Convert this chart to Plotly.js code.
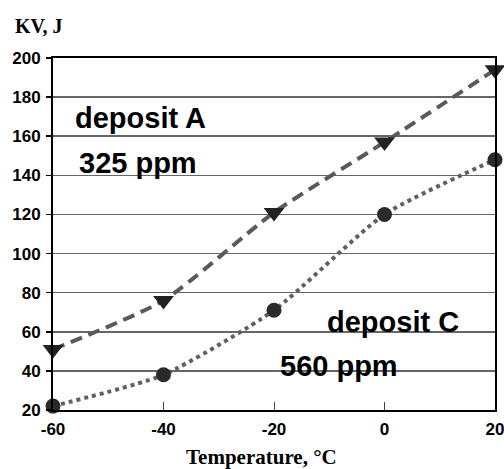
<!DOCTYPE html>
<html>
<head>
<meta charset="utf-8">
<script src="https://cdn.plot.ly/plotly-3.0.1.min.js"></script>
<style>html,body{margin:0;padding:0;background:#fff;}#chart{width:504px;height:469px;}</style>
</head>
<body>
<div id="chart"></div>
<script>
const temperature = [-60, -40, -20, 0, 20];
const depositA = [51, 76, 121, 157, 194];
const depositC = [22, 38, 71, 120, 148];
const xTicks = [-60, -40, -20, 0, 20];
const yTicks = [20, 40, 60, 80, 100, 120, 140, 160, 180, 200];
const labels = [
  {text: 'deposit A', x: -44.2, y: 169.5},
  {text: '325 ppm', x: -44.7, y: 146.5},
  {text: 'deposit C', x: 1.6, y: 65},
  {text: '560 ppm', x: -8.2, y: 42.5}
];

const tickFont = {family: 'Liberation Sans, Arial, sans-serif', size: 17, color: '#000', weight: 'bold'};

const traces = [
  {
    x: temperature, y: depositA, type: 'scatter', mode: 'lines+markers',
    line: {color: '#5a5a5a', width: 4, dash: '12px,7px', shape: 'spline', smoothing: 0.6},
    marker: {symbol: 'triangle-down', size: 18, color: '#222'},
    cliponaxis: false, showlegend: false
  },
  {
    x: temperature, y: depositC, type: 'scatter', mode: 'lines+markers',
    line: {color: '#606060', width: 4, dash: '4px,4px', shape: 'spline', smoothing: 0.6},
    marker: {symbol: 'circle', size: 15, color: '#2a2a2a'},
    cliponaxis: false, showlegend: false
  }
];

const annotations = labels.map(l => ({
  text: l.text, x: l.x, y: l.y, xref: 'x', yref: 'y', showarrow: false,
  font: {family: 'Liberation Sans, Arial, sans-serif', size: 29, color: '#000', weight: 'bold'},
  xanchor: 'center', yanchor: 'middle'
}));
annotations.push({
  text: 'KV, J', xref: 'paper', yref: 'paper', x: -0.0915, y: 1.0, xanchor: 'left', yanchor: 'bottom',
  yshift: 19, showarrow: false,
  font: {family: 'Liberation Serif, Times New Roman, serif', size: 20, color: '#000', weight: 'bold'}
});
annotations.push({
  text: 'Temperature, °C', xref: 'paper', yref: 'paper', x: 0.472, y: 0, xanchor: 'center', yanchor: 'top',
  yshift: -33, showarrow: false,
  font: {family: 'Liberation Serif, Times New Roman, serif', size: 21, color: '#000', weight: 'bold'}
});

const layout = {
  width: 504, height: 469,
  margin: {l: 53, r: 9, t: 58, b: 59},
  paper_bgcolor: '#fff', plot_bgcolor: '#fff',
  xaxis: {
    range: [-60, 20], tickvals: xTicks, ticktext: xTicks.map(String),
    ticks: 'inside', ticklen: 8, tickwidth: 1, tickcolor: '#444',
    showline: true, linecolor: '#000', linewidth: 2, mirror: true,
    showgrid: false, zeroline: false, tickfont: tickFont, ticklabelstandoff: 3,
    ticklabeloverflow: 'allow'
  },
  yaxis: {
    range: [20, 200], tickvals: yTicks, ticktext: yTicks.map(String),
    ticks: 'outside', ticklen: 5, tickwidth: 1.5, tickcolor: '#000',
    showline: true, linecolor: '#000', linewidth: 2, mirror: true,
    showgrid: true, gridcolor: '#666', gridwidth: 1.5, zeroline: false,
    tickfont: tickFont, ticklabelstandoff: 2
  },
  annotations: annotations
};

Plotly.newPlot('chart', traces, layout, {displayModeBar: false, staticPlot: true});
</script>
</body>
</html>
